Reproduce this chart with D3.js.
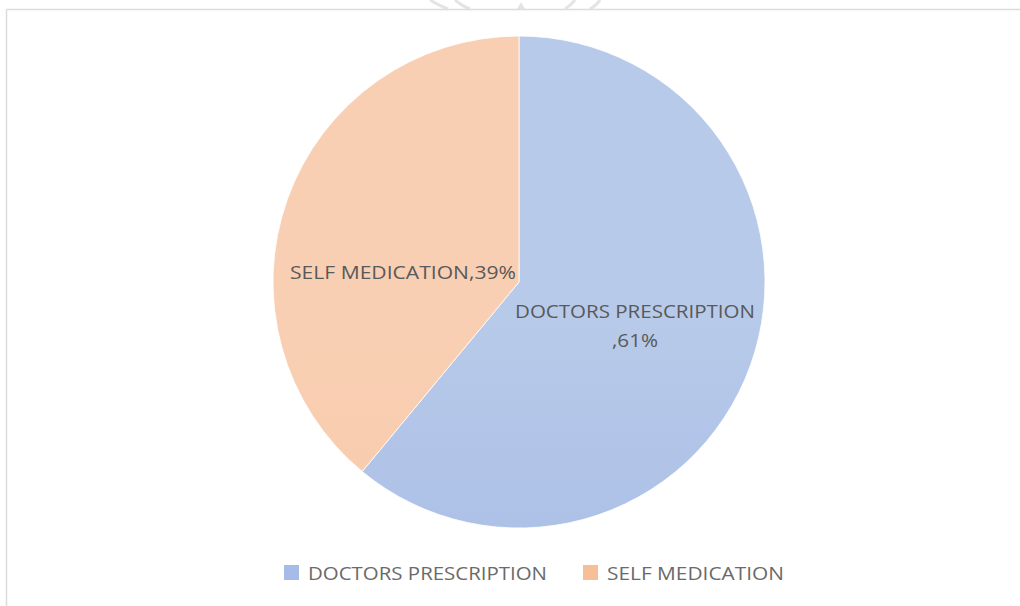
<!DOCTYPE html>
<html><head><meta charset="utf-8">
<script src="https://cdn.jsdelivr.net/npm/d3@7"></script>
<style>body{margin:0;background:#fff;} svg{display:block;}</style>
</head><body>
<svg id="chart" width="1020" height="606"></svg>
<script>
const categories = ["DOCTORS PRESCRIPTION", "SELF MEDICATION"];
const values = [61, 39];
const labelLines = [["DOCTORS PRESCRIPTION", ",61%"], ["SELF MEDICATION,39%"]];
const colorsTop = ["#b8cae9", "#f9cfb3"];
const colorsBottom = ["#9fb5e5", "#f7c7a6"];
const legendColors = ["#a6bbe8", "#f6bf98"];

const svg = d3.select("#chart");
const W = 1020, H = 606;
const cx = 519, cy = 282, r = 246;
const font = "'Open Sans', 'Noto Sans', sans-serif";

// faint watermark at top
const wm = svg.append("g").attr("fill","none").attr("stroke","#e4e4e4").attr("stroke-width",3);
wm.append("path").attr("d","M430,0 Q440,6 448,9");
wm.append("path").attr("d","M455,0 Q462,6 470,9");
wm.append("path").attr("d","M600,0 Q596,6 590,9");
wm.append("path").attr("d","M575,0 Q570,6 565,9");
svg.append("path").attr("d","M517,9 L521,2 L525,9 Z").attr("fill","#e4e4e4");

// frame
svg.append("line").attr("x1",6.5).attr("x2",W).attr("y1",9.5).attr("y2",9.5).attr("stroke","#dcdcdc").attr("stroke-width",1.5);
svg.append("line").attr("x1",6.5).attr("x2",6.5).attr("y1",9.5).attr("y2",H).attr("stroke","#dcdcdc").attr("stroke-width",1.5);

const defs = svg.append("defs");
categories.forEach((c,i)=>{
  const g = defs.append("linearGradient").attr("id","grad"+i)
    .attr("gradientUnits","userSpaceOnUse")
    .attr("x1",0).attr("y1",cy-r).attr("x2",0).attr("y2",cy+r);
  g.append("stop").attr("offset","0%").attr("stop-color",colorsTop[i]);
  g.append("stop").attr("offset","100%").attr("stop-color",colorsBottom[i]);
});

const pie = d3.pie().sort(null).value(d=>d);
const arcs = pie(values);
const arc = d3.arc().innerRadius(0).outerRadius(r);
const g = svg.append("g").attr("transform",`translate(${cx},${cy})`);
g.selectAll("path").data(arcs).join("path")
  .attr("d",arc)
  .attr("fill",(d,i)=>`url(#grad${i})`)
  .attr("stroke","#ffffff").attr("stroke-width",0.8);

// data labels
const labelPos = [[116, 43], [-116, -10]];
const labelWidths = [[240, 46], [226]];
arcs.forEach((d,i)=>{
  const lines = labelLines[i];
  const [lx, ly] = labelPos[i];
  lines.forEach((ln,j)=>{
    g.append("text").attr("text-anchor","middle")
      .attr("font-family",font).attr("font-size",19).attr("fill","#595959")
      .attr("x",lx).attr("y",ly + j*29 - (lines.length-1)*14.5 + 7)
      .attr("textLength",labelWidths[i][j]).attr("lengthAdjust","spacingAndGlyphs")
      .text(ln);
  });
});

// legend
const leg = svg.append("g");
const legX = [284, 583];
const legW = [239, 177];
categories.forEach((c,i)=>{
  leg.append("rect").attr("x",legX[i]).attr("y",565).attr("width",15).attr("height",15).attr("fill",legendColors[i]);
  leg.append("text").attr("x",legX[i]+24).attr("y",580)
    .attr("font-family",font).attr("font-size",19).attr("fill","#6a6a6a")
    .attr("textLength",legW[i]).attr("lengthAdjust","spacingAndGlyphs").text(c);
});
</script>
</body></html>
